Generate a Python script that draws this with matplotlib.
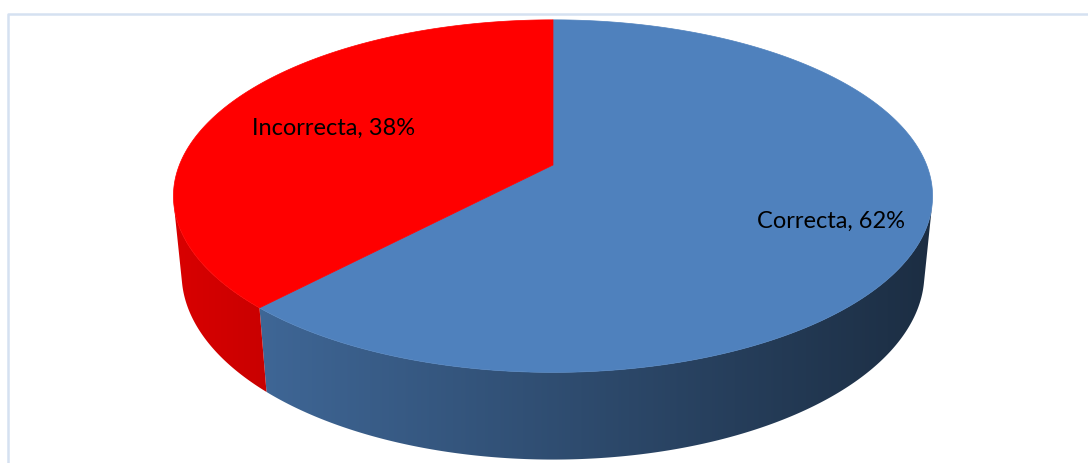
import numpy as np
import matplotlib.pyplot as plt
from matplotlib.patches import Polygon
from matplotlib.colors import LinearSegmentedColormap, to_rgb

# Answer split
labels = ["Correcta", "Incorrecta"]
values = [62, 38]
colors = ["#4F81BD", "#FF0000"]

# 3D view of the pie (perspective camera looking down on the disc)
cx, cy = 553, 165        # screen position of the pie centre (px)
focal = 1883             # focal length in px
elev = np.deg2rad(27.2)  # camera elevation
dist = 5.04              # camera distance in pie radii
thick = 0.235            # pie height in pie radii
label_r = [0.76, 0.66]   # radius where each label sits
label_dy = [6, 3]        # small downward nudge of the labels (px)


def project(X, Y, Z):
    c, s = np.cos(elev), np.sin(elev)
    d = Y * c - Z * s + dist
    return cx + focal * X / d, cy - focal * (Y * s + Z * c) / d


fig = plt.figure(figsize=(10.88, 4.63), dpi=100)
ax = fig.add_axes([0, 0, 1, 1])
ax.set_xlim(0, 1088)
ax.set_ylim(463, 0)
ax.axis('off')

# chart frame (runs off the right and bottom edges)
ax.plot([8, 8, 1100], [480, 14, 14], color="#D5E1F1", lw=1.8, solid_capstyle='butt')

fracs = np.array(values) / sum(values)
bounds = np.concatenate([[0], np.cumsum(fracs)]) * 2 * np.pi  # clockwise from 12 o'clock

# part of the outer wall that faces the camera: cos(phi) < -1 / (dist * cos(elev))
lim = np.arccos(-1 / (dist * np.cos(elev)))
vis_lo, vis_hi = lim, 2 * np.pi - lim

# side walls, filled with a left-to-right shading
xmin, xmax = 173, 935
for i, col in enumerate(colors):
    a, b = max(bounds[i], vis_lo), min(bounds[i + 1], vis_hi)
    if a >= b:
        continue
    phis = np.linspace(a, b, 400)
    top = [project(np.sin(p), np.cos(p), 0) for p in phis]
    bot = [project(np.sin(p), np.cos(p), -thick) for p in phis[::-1]]
    wall = Polygon(top + bot, closed=True, facecolor='none', edgecolor='none')
    ax.add_patch(wall)

    rgb = np.array(to_rgb(col))
    grad = np.linspace(0, 1, 256)
    cmap = LinearSegmentedColormap.from_list(
        f"side{i}", [tuple(rgb * (0.85 - 0.5 * t)) for t in grad])
    img = ax.imshow(grad[None, :], cmap=cmap, aspect='auto',
                    extent=[xmin, xmax, 470, 0], interpolation='bilinear', zorder=1)
    img.set_clip_path(wall)

# top faces
for i, col in enumerate(colors):
    phis = np.linspace(bounds[i], bounds[i + 1], 300)
    pts = [project(0, 0, 0)] + [project(np.sin(p), np.cos(p), 0) for p in phis]
    ax.add_patch(Polygon(pts, closed=True, facecolor=col, edgecolor=col, lw=0.5, zorder=2))

# data labels
for i, (lab, val) in enumerate(zip(labels, values)):
    mid = (bounds[i] + bounds[i + 1]) / 2
    r = label_r[i]
    x, y = project(r * np.sin(mid), r * np.cos(mid), 0)
    ax.text(x, y + label_dy[i], f"{lab}, {val}%", ha='center', va='center', fontsize=17,
            family=['Lato', 'DejaVu Sans'], color='black', zorder=3)

ax.set_xlim(0, 1088)
ax.set_ylim(463, 0)
plt.savefig("out.png", dpi=100)
